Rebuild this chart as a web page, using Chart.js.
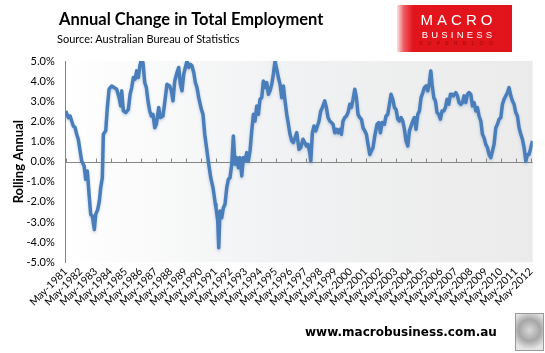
<!DOCTYPE html>
<html>
<head>
<meta charset="utf-8">
<script src="https://cdn.jsdelivr.net/npm/chart.js@4.4.1/dist/chart.umd.min.js"></script>
<style>
  html, body { margin: 0; padding: 0; background: #fff; }
  #wrap { position: relative; width: 545px; height: 353px; overflow: hidden; font-family: Lato, "Open Sans", sans-serif; }
  #chart { position: absolute; left: 0; top: 0; }
  .title { position: absolute; left: 59px; top: 9px; font-weight: bold; font-size: 16.5px; color: #000; white-space: nowrap; }
  .source { position: absolute; left: 57px; top: 32px; font-size: 11px; color: #000; white-space: nowrap; }
  .logo { position: absolute; left: 397px; top: 5px; width: 115px; height: 47px;
          background: linear-gradient(to right, #fbe3e3 0%, #ee5a5e 6%, #e3151c 14%, #e0141b 100%); }
  .logo div { position: absolute; left: 0; width: 100%; text-align: center; color: #fff; font-family: "Liberation Sans", Arial, sans-serif; white-space: nowrap; }
  .logo .l1 { top: 6px; font-size: 15px; letter-spacing: 4px; padding-left: 4px; }
  .logo .l2 { top: 24px; font-size: 9.5px; letter-spacing: 3.2px; padding-left: 4px; }
  .logo .l3 { top: 35px; font-size: 5.5px; letter-spacing: 5px; color: #9a0c10; padding-left: 4px; }
  .footer { position: absolute; left: 305px; top: 325px; font-family: "DejaVu Sans", sans-serif; font-weight: bold; font-size: 12px; color: #000; white-space: nowrap; }
  .wolf { position: absolute; left: 515px; top: 313px; width: 27px; height: 36px; border: 1px solid #9a9a9a;
          background: radial-gradient(circle at 50% 45%, #d8d8d8 0%, #a6a6a6 45%, #e4e4e4 80%); }
</style>
</head>
<body>
<div id="wrap">
  <canvas id="chart" width="545" height="353"></canvas>
  <div class="title">Annual Change in Total Employment</div>
  <div class="source">Source: Australian Bureau of Statistics</div>
  <div class="logo"><div class="l1">MACRO</div><div class="l2">BUSINESS</div><div class="l3">SUPERBLOG</div></div>
  <div class="footer">www.macrobusiness.com.au</div>
  <div class="wolf"></div>
</div>
<script>
// months since May-1981 at which the curve was read
const monthOffset = [
  0, 2.1, 3.5, 4.8, 6.1, 7.5, 8.8, 10.1, 11.5, 12.8, 14.7, 16, 17.3, 18.7, 20, 21.3, 22.9, 24, 25.6, 26.9,
  28, 29.3, 30.1, 32, 33.3, 34.7, 36.8, 38.7, 40.8, 42.7, 44, 44.8, 46.1, 48, 50.1, 51.5, 52.8, 54.1, 55.5, 56.8,
  58.1, 59.5, 60, 61.8, 63.2, 64.5, 65.8, 67.2, 68.5, 69.8, 71.2, 72.5, 74.4, 75.7, 77.8, 79.7, 81, 83.2, 84.5, 85.8,
  87.2, 89, 90.4, 91.7, 93, 94.4, 95.7, 97, 98.4, 99.7, 101, 102.4, 103.7, 105, 106.4, 108.5, 109.8, 111.2, 113, 114.4,
  116, 117.8, 119.7, 120.2, 121.6, 122.4, 123.4, 124.8, 126.1, 127.4, 128.8, 130.1, 131.4, 132.8, 134.1, 135.4, 136.8, 138.1, 139.4, 140.8,
  142.1, 143.4, 144.8, 146.1, 147.4, 148.8, 150.1, 151.4, 152.8, 154.1, 155.4, 156.8, 158.1, 159.4, 160.8, 162.1, 163.4, 164.8, 166.1, 167.4,
  168.8, 170.1, 171.4, 172.8, 174.1, 175.4, 176.8, 178.1, 179.4, 180.8, 182.1, 183.4, 184.8, 186.6, 188, 189.8, 191.2, 192.5, 193.8, 195.2,
  196, 197.3, 198.6, 200, 201.3, 202.6, 204, 205.3, 207.2, 208.5, 209.8, 211.2, 212.5, 213.8, 215.2, 216.5, 217.8, 219.2, 220.5, 221.8,
  223.2, 224.5, 225.8, 227.2, 228.5, 229.8, 231.2, 232.5, 233.8, 235.2, 236.5, 237.8, 239.2, 240.5, 241.8, 243.2, 244.5, 245.8, 247.2, 249,
  250.4, 251.7, 253, 254.9, 256.2, 257.6, 258.9, 260.2, 261.6, 262.9, 264.2, 265.6, 266.9, 268.2, 269.6, 270.9, 272.2, 273.6, 274.9, 276.2,
  277.6, 278.9, 280.2, 281.6, 282.9, 284.2, 285.6, 286.9, 288.2, 289.6, 290.9, 292, 293, 294.4, 295.7, 297, 298.4, 299.7, 301, 302.4,
  303.7, 305, 306.4, 307.7, 309, 310.1, 312, 313.3, 314.6, 316, 317.3, 318.6, 320, 321.3, 322.6, 324, 325.3, 326.6, 328, 329.3,
  330.6, 332, 333.3, 334.6, 336, 337.3, 338.6, 340, 341.3, 342.6, 344, 345.3, 346.6, 348, 349.3, 350.6, 352, 353.3, 354.6, 356,
  357.3, 358.6, 360, 361.3, 362.6, 364, 365.3, 366.6, 368, 369.3, 370.6, 372, 373.3
];

// rolling annual change in total employment, %
const rollingAnnual = [
  2.52, 2.19, 2.27, 2.02, 1.77, 1.70, 1.36, 1.10, 0.53, 0.03, -0.20, -0.88, -0.46, -1.63, -2.62, -2.70, -3.37, -2.62, -2.37, -1.96,
  -1.29, -0.80, 1.36, 1.53, 2.69, 3.60, 3.76, 3.68, 3.60, 3.18, 2.77, 3.52, 2.52, 2.44, 2.60, 3.35, 3.68, 4.18, 4.10, 4.51,
  4.18, 4.84, 5.00, 4.93, 3.93, 3.68, 3.02, 2.52, 2.27, 2.35, 1.69, 1.86, 2.69, 2.19, 2.27, 3.18, 3.85, 3.76, 3.52, 3.02,
  4.01, 4.43, 4.68, 3.85, 3.52, 4.35, 4.68, 5.00, 4.68, 4.84, 4.76, 4.43, 3.93, 3.68, 3.18, 2.60, 2.35, 1.36, 0.53, -0.13,
  -0.80, -1.29, -2.12, -2.29, -2.95, -4.28, -2.45, -2.79, -2.29, -2.12, -1.29, -0.88, -0.80, -0.13, 1.28, -0.13, 0.20, -0.30, 0.20, -0.71,
  0.20, 0.03, 0.45, 0.03, 0.53, 1.53, 2.35, 2.02, 2.77, 2.35, 3.10, 3.18, 4.01, 3.68, 3.93, 3.35, 3.52, 3.85, 4.35, 5.00,
  4.60, 4.18, 3.85, 3.18, 3.76, 3.02, 2.35, 1.86, 1.36, 1.03, 0.95, 1.19, 1.44, 0.61, 0.70, 1.11, 0.95, 0.78, 0.86, 0.45,
  0.03, 1.44, 1.77, 1.53, 1.77, 2.02, 2.52, 2.69, 3.02, 2.69, 2.19, 2.02, 1.94, 1.86, 1.44, 1.61, 1.44, 1.61, 1.36, 2.02,
  2.19, 2.27, 2.44, 2.85, 2.69, 3.10, 3.60, 3.18, 2.35, 2.19, 2.11, 1.69, 1.53, 1.36, 0.86, 0.36, 0.53, 0.70, 1.28, 1.86,
  1.94, 1.44, 1.94, 1.86, 2.27, 2.35, 2.85, 3.35, 3.10, 2.69, 2.60, 2.11, 2.02, 2.19, 2.02, 1.61, 1.03, 0.78, 1.53, 1.77,
  2.02, 2.19, 1.61, 2.35, 2.52, 3.18, 3.43, 3.68, 3.76, 3.52, 3.93, 4.51, 3.85, 3.18, 3.02, 2.44, 2.35, 2.11, 2.52, 2.52,
  2.69, 3.10, 2.85, 3.35, 3.35, 3.27, 3.43, 3.27, 2.94, 2.85, 2.94, 3.27, 2.94, 3.35, 3.43, 3.35, 2.77, 2.94, 2.52, 2.69,
  2.27, 2.02, 1.36, 1.19, 0.86, 0.70, 0.36, 0.20, 0.53, 0.86, 1.69, 1.86, 2.11, 2.19, 2.85, 3.10, 3.27, 3.43, 3.68, 3.27,
  3.02, 2.85, 2.44, 2.27, 1.69, 1.36, 1.11, 0.70, 0.03, 0.36, 0.36, 0.70, 1.03
];

const yearLabels = [
  'May-1981', 'May-1982', 'May-1983', 'May-1984', 'May-1985', 'May-1986', 'May-1987', 'May-1988',
  'May-1989', 'May-1990', 'May-1991', 'May-1992', 'May-1993', 'May-1994', 'May-1995', 'May-1996',
  'May-1997', 'May-1998', 'May-1999', 'May-2000', 'May-2001', 'May-2002', 'May-2003', 'May-2004',
  'May-2005', 'May-2006', 'May-2007', 'May-2008', 'May-2009', 'May-2010', 'May-2011', 'May-2012'
];

const FONT = 'Lato, "Open Sans", sans-serif';
const AXIS_GREY = '#868686';

// plot-area gradient, zero axis with yearly ticks, soft shadow under the line
const chartDecor = {
  id: 'chartDecor',
  beforeDraw(chart) {
    const { ctx, chartArea: a } = chart;
    const g = ctx.createLinearGradient(a.left, 0, a.right, 0);
    g.addColorStop(0, '#ffffff');
    g.addColorStop(0.45, '#f1f2f3');
    g.addColorStop(1, '#ebebeb');
    ctx.save();
    ctx.fillStyle = g;
    ctx.fillRect(a.left, a.top, a.right - a.left, a.bottom - a.top);
    ctx.restore();
  },
  beforeDatasetsDraw(chart) {
    const { ctx, chartArea: a, scales: { x, y } } = chart;
    const y0 = Math.round(y.getPixelForValue(0)) + 0.5;
    ctx.save();
    ctx.strokeStyle = AXIS_GREY;
    ctx.lineWidth = 1;
    ctx.beginPath();
    ctx.moveTo(a.left, y0);
    ctx.lineTo(a.right, y0);
    yearLabels.forEach((_, i) => {
      const px = Math.round(x.getPixelForValue(i * 12)) + 0.5;
      ctx.moveTo(px, y0);
      ctx.lineTo(px, y0 - 4);
    });
    ctx.stroke();
    ctx.restore();
  },
  beforeDatasetDraw(chart) {
    const ctx = chart.ctx;
    ctx.save();
    ctx.shadowColor = 'rgba(74, 126, 187, 0.35)';
    ctx.shadowBlur = 3;
    ctx.shadowOffsetY = 1.5;
  },
  afterDatasetDraw(chart) {
    chart.ctx.restore();
  },
};

new Chart(document.getElementById('chart').getContext('2d'), {
  type: 'line',
  data: {
    datasets: [{
      label: 'Rolling Annual',
      data: monthOffset.map((m, i) => ({ x: m, y: rollingAnnual[i] })),
      borderColor: '#4a7ebb',
      borderWidth: 3.5,
      borderJoinStyle: 'round',
      pointRadius: 0,
      tension: 0,
      fill: false,
    }],
  },
  options: {
    responsive: false,
    animation: false,
    layout: { padding: { top: 61, right: 12.3, left: 0, bottom: 0 } },
    plugins: { legend: { display: false }, tooltip: { enabled: false } },
    scales: {
      x: {
        type: 'linear',
        min: 0,
        max: 373.5,
        afterBuildTicks: scale => {
          scale.ticks = yearLabels.map((_, i) => ({ value: i * 12 }));
        },
        afterFit: scale => { scale.height = 353 - 262.3; },
        grid: { display: false, drawTicks: false },
        border: { display: false },
        ticks: {
          autoSkip: false,
          minRotation: 45,
          maxRotation: 45,
          padding: 3,
          color: '#000',
          font: { family: FONT, size: 10.5 },
          callback: value => yearLabels[Math.round(value / 12)],
        },
      },
      y: {
        min: -5,
        max: 5,
        afterFit: scale => { scale.width = 65.7; },
        grid: { display: false, drawTicks: false },
        border: { display: true, color: AXIS_GREY, width: 1 },
        ticks: {
          stepSize: 1,
          padding: 11,
          color: '#000',
          font: { family: FONT, size: 11 },
          callback: v => v.toFixed(1) + '%',
        },
        title: {
          display: true,
          text: 'Rolling Annual',
          color: '#000',
          font: { family: FONT, size: 13, weight: 'bold' },
          padding: { top: 11, bottom: 0 },
        },
      },
    },
  },
  plugins: [chartDecor],
});
</script>
</body>
</html>
